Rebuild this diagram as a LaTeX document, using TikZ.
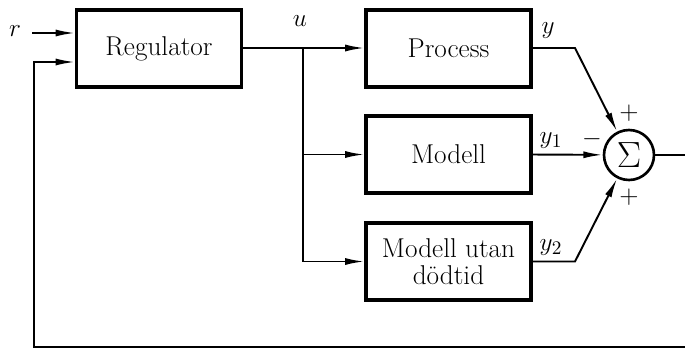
\documentclass[tikz,border=0pt]{standalone}
\usepackage{amsmath}
\usepackage{amssymb}
\usetikzlibrary{arrows.meta,positioning}

\begin{document}
\begin{tikzpicture}[x=0.02cm,y=-0.02cm,font=\fontsize{15.5}{18}\selectfont,
	block/.style={draw,line width=1.8pt,minimum width=3.3cm,minimum height=1.54cm,align=center,inner sep=0pt},
	sumnode/.style={draw,circle,line width=1.5pt,minimum size=1cm,inner sep=0pt},
	sig/.style={line width=1.1pt},
	>={Latex[length=11pt,width=4pt]}]
	\useasboundingbox (0,0) rectangle (685,349);
	\node[block] (reg) at (159,48.5) {Regulator};
	\node[block] (proc) at (448.5,48.5) {Process};
	\node[block] (mod) at (448.5,154.5) {Modell};
	\node[block] (modu) at (448.5,261.5) {Modell utan\\[-3pt] dödtid};
	\node[sumnode] (sum) at (629,155) {\fontsize{22}{24}\selectfont$\Sigma$};
	\node (r) at (15,31) {$r$};
	\node (u) at (300,21) {$u$};
	\coordinate (rin) at (32,33);
	\coordinate (fb) at (34,62);
	\coordinate (fbl) at (34,347);
	\coordinate (fbr) at (685,347);
	\coordinate (ju) at (303,48);
	\coordinate (jm) at (303,154.5);
	\coordinate (jd) at (303,261.5);
	\coordinate (ky) at (575,48);
	\coordinate (ky2) at (575,261.5);
	\coordinate (out) at (685,155);
	\node (y) at (548,31) {$y$};
	\node (y1) at (551,141) {$y_1$};
	\node (y2) at (551,248) {$y_2$};
	\node (mi) at (592,139) {$-$};
	\node (pa) at (629,113) {$+$};
	\node (pb) at (629,197) {$+$};
	\draw[sig,->] (rin) -- (reg.west |- rin);
	\draw[sig,->] (fbr) -- (fbl) -- (fb) -- (reg.west |- fb);
	\draw[sig] (reg.east |- ju) -- (ju);
	\draw[sig,->] (ju) -- (proc.west |- ju);
	\draw[sig,->] (jm) -- (mod.west);
	\draw[sig,->] (ju) -- (jd) -- (modu.west);
	\draw[sig,->] (proc.east |- ky) -- (ky) -- (sum);
	\draw[sig,->] (mod.east) -- (sum);
	\draw[sig,->] (modu.east) -- (ky2) -- (sum);
	\draw[line width=0.8pt] (sum) -- (out);
\end{tikzpicture}
\end{document}
